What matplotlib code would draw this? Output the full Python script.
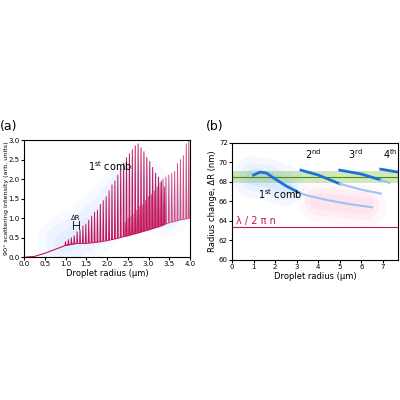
import matplotlib
matplotlib.use("Agg")
import matplotlib.pyplot as plt
import numpy as np

# Panel (a) data
comb1_x = [1.0,1.07,1.14,1.21,1.28,1.35,1.42,1.49,1.56,1.63,1.70,1.77,1.84,1.91,1.98,2.05,2.12,2.19,2.26,2.33,2.40,2.47,2.54,2.61,2.68,2.75,2.82,2.89,2.96,3.03,3.10,3.17,3.24,3.31,3.38]
comb1_y = [0.4,0.45,0.5,0.55,0.65,0.7,0.8,0.85,0.95,1.05,1.15,1.2,1.35,1.45,1.55,1.7,1.85,1.95,2.1,2.25,2.4,2.55,2.65,2.75,2.85,2.9,2.8,2.7,2.55,2.45,2.3,2.15,2.05,1.95,1.8]
comb2_x = [2.44,2.51,2.58,2.65,2.72,2.79,2.86,2.93,3.0,3.07,3.14,3.21,3.28,3.35,3.42,3.49,3.56,3.63,3.70,3.77,3.84,3.91,3.97]
comb2_y = [0.9,1.0,1.05,1.1,1.2,1.3,1.35,1.45,1.55,1.6,1.7,1.8,1.9,2.0,2.05,2.1,2.15,2.2,2.4,2.5,2.6,2.9,3.0]
base_x = [0,0.25,0.5,0.75,1.0,1.25,1.5,1.75,2.0,2.25,2.5,2.75,3.0,3.25,3.5,3.75,4.0]
base_y = [0,0.02,0.1,0.2,0.3,0.35,0.35,0.38,0.42,0.48,0.55,0.62,0.7,0.78,0.88,0.95,1.0]

# Panel (b) data
c1_x = [1.0,1.3,1.6,2.0,2.5,3.1]; c1_y = [68.7,69.0,68.9,68.3,67.6,66.9]
c1f_x = [3.1,3.5,4.5,5.5,6.5]; c1f_y = [66.9,66.6,66.1,65.7,65.4]
c2_x = [3.2,4.0,5.0]; c2_y = [69.2,68.7,67.8]
c2f_x = [5.0,6.0,6.9]; c2f_y = [67.8,67.2,66.8]
c3_x = [5.0,6.0,6.9]; c3_y = [69.2,68.8,68.2]
c3f_x = [6.9,7.3]; c3f_y = [68.2,67.9]
c4_x = [6.9,7.7]; c4_y = [69.3,69.0]
band = (67.9, 69.1); band_mid = 68.5; lam_line = 63.4

fig = plt.figure(figsize=(4,4), dpi=100)
mag = '#c2185b'

ax = fig.add_axes([0.06,0.357,0.415,0.293])
for w,a in [(40,0.05),(28,0.07),(16,0.08)]:
    ax.plot(comb1_x, np.array(comb1_y)*0.6+0.15, color='#6fa8ff', lw=w, alpha=a, solid_capstyle='round')
bx = np.array(base_x); by = np.array(base_y)
def spikes(xs, ys):
    X=[];Y=[]
    for x,y in zip(xs,ys):
        b = np.interp(x,bx,by)
        X += [x-0.012, x, x+0.012]; Y += [b, y, b]
    return X,Y
X,Y = spikes(comb1_x, comb1_y)
ax.plot(X,Y,color=mag,lw=0.7)
X,Y = spikes(comb2_x, comb2_y)
ax.plot(X,Y,color=mag,lw=0.7,alpha=0.75)
ax.plot(base_x[:6], base_y[:6], color=mag, lw=0.8)
ax.set_xlim(0,4); ax.set_ylim(0,3)
ax.set_xticks(np.arange(0,4.01,0.5)); ax.set_yticks(np.arange(0,3.01,0.5))
ax.tick_params(labelsize=5, length=2, pad=1)
ax.set_xlabel('Droplet radius (µm)', fontsize=6, labelpad=1)
ax.set_ylabel('90° scattering intensity (arb. units)', fontsize=4.6, labelpad=0)
ax.text(1.55,2.2,'1$^{\\rm st}$ comb', fontsize=7)
ax.text(1.25,0.95,'ΔR', fontsize=5, ha='center')
ax.plot([1.18,1.32],[0.82,0.82],color='k',lw=0.6)
ax.plot([1.18,1.18],[0.72,0.92],color='k',lw=0.6)
ax.plot([1.32,1.32],[0.72,0.92],color='k',lw=0.6)
fig.text(0.0,0.675,'(a)', fontsize=9)

ax2 = fig.add_axes([0.58,0.35,0.415,0.293])
for w,a in [(30,0.05),(20,0.07),(12,0.08)]:
    ax2.plot([1.0,1.6,2.4],[68.5,68.3,67.6], color='#4a90ff', lw=w, alpha=a, solid_capstyle='round')
    ax2.plot([4.0,5.0,6.2],[66.0,65.8,65.5], color='#ff6fa8', lw=w, alpha=a, solid_capstyle='round')
ax2.axhspan(band[0], band[1], color='#9ccc65', alpha=0.45, lw=0)
ax2.axhline(band_mid, color='#4c8c1a', lw=0.8)
ax2.axhline(lam_line, color=mag, lw=0.8)
for xs,ys in [(c1_x,c1_y),(c2_x,c2_y),(c3_x,c3_y),(c4_x,c4_y)]:
    ax2.plot(xs,ys,color='#1a73d9',lw=2)
for xs,ys in [(c1f_x,c1f_y),(c2f_x,c2f_y),(c3f_x,c3f_y)]:
    ax2.plot(xs,ys,color='#9cc3f0',lw=1.5)
ax2.set_xlim(0,7.7); ax2.set_ylim(60,72)
ax2.set_xticks(range(0,8)); ax2.set_yticks(range(60,73,2))
ax2.tick_params(labelsize=5, length=2, pad=1)
ax2.set_xlabel('Droplet radius (µm)', fontsize=6, labelpad=1)
ax2.set_ylabel('Radius change, ΔR (nm)', fontsize=6, labelpad=1)
ax2.text(1.2,66.2,'1$^{\\rm st}$ comb', fontsize=7)
ax2.text(3.4,70.3,'2$^{\\rm nd}$', fontsize=7)
ax2.text(5.4,70.3,'3$^{\\rm rd}$', fontsize=7)
ax2.text(7.0,70.3,'4$^{\\rm th}$', fontsize=7)
ax2.text(0.2,63.7,'λ / 2 π n', fontsize=7, color=mag)
fig.text(0.515,0.675,'(b)', fontsize=9)
fig.savefig('out.png', dpi=100)
